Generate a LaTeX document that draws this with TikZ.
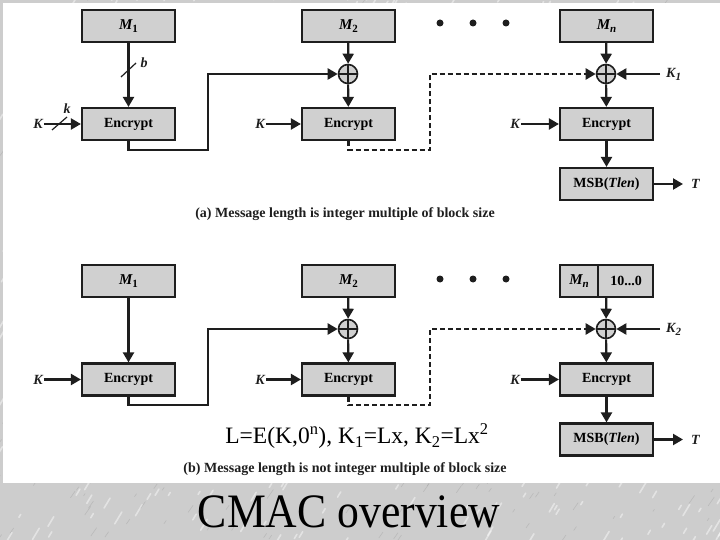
\documentclass[tikz,border=0pt]{standalone}
\usepackage{fontspec}
\setmainfont{Liberation Serif}
\usetikzlibrary{arrows.meta}
\definecolor{boxgray}{RGB}{208,208,208}
\definecolor{ink}{RGB}{30,30,30}
\definecolor{marble}{RGB}{205,205,205}
\definecolor{vein}{RGB}{150,150,150}
\newcommand{\blab}[2]{{\fontsize{15}{16}\selectfont\bfseries\itshape #1}\raisebox{-0.45ex}{\fontsize{11}{12}\selectfont\bfseries #2}}
\newcommand{\blabi}[2]{{\fontsize{15}{16}\selectfont\bfseries\itshape #1}\raisebox{-0.45ex}{\fontsize{11}{12}\selectfont\bfseries\itshape #2}}
\newcommand{\klab}[2]{{\bfseries\itshape #1}\raisebox{-0.45ex}{\fontsize{11}{12}\selectfont\bfseries #2}}
\tikzset{
  box/.style={draw=ink, fill=boxgray, line width=2.2pt, minimum width=93pt, minimum height=32pt, inner sep=0pt, font=\fontsize{14}{16}\selectfont\bfseries},
  xor/.style={circle, draw=ink, fill=boxgray, line width=1.6pt, minimum size=19pt, inner sep=0pt,
    path picture={\draw[ink, line width=1.2pt] (path picture bounding box.north) -- (path picture bounding box.south) (path picture bounding box.west) -- (path picture bounding box.east);}},
  arr/.style={draw=ink, line width=2.2pt, -{Triangle[length=10pt,width=11pt]}},
  lbl/.style={inner sep=1pt, font=\fontsize{14}{15}\selectfont\bfseries\itshape, text=ink},
  captxt/.style={font=\fontsize{14}{16}\selectfont\bfseries, text=ink},
  tick/.style={draw=ink, line width=1.2pt},
  dotn/.style={circle, fill=ink, minimum size=7pt, inner sep=0pt},
  dsh/.style={dash pattern=on 5pt off 3pt}
}
\begin{document}
\begin{tikzpicture}[x=1pt,y=-1pt]
\fill[marble] (0,0) rectangle (720,540);
\begin{scope}
\clip (0,0) rectangle (720,540);
\pgfmathsetseed{11}
\foreach \i in {1,...,700}{
  \pgfmathsetmacro{\xa}{rnd*730-5}
  \pgfmathsetmacro{\ya}{rnd*550-5}
  \pgfmathsetmacro{\la}{3+rnd*9}
  \draw[white, opacity=0.45, line width=1.6pt, line cap=round] (\xa,\ya) -- ++(0.6*\la,-\la);
}
\foreach \i in {1,...,500}{
  \pgfmathsetmacro{\xa}{rnd*730-5}
  \pgfmathsetmacro{\ya}{rnd*550-5}
  \pgfmathsetmacro{\la}{2+rnd*7}
  \draw[vein, opacity=0.35, line width=0.6pt] (\xa,\ya) -- ++(0.7*\la,-\la);
}
\end{scope}
\fill[white] (3,3) rectangle (720,483);
\useasboundingbox (0,0) rectangle (720,540);

% ===== (a) =====
\node[box] (m1) at (128.5,26) {\blab{M}{1}};
\node[box] (e1) at (128.5,124) {Encrypt};
\node[box] (m2) at (348.5,26) {\blab{M}{2}};
\node[xor] (x2) at (348,74) {};
\node[box] (e2) at (348.5,124) {Encrypt};
\node[box] (mn) at (606.5,26) {\blabi{M}{n}};
\node[xor] (xn) at (606,74) {};
\node[box] (en) at (606.5,124) {Encrypt};
\node[box] (msb) at (606.5,184) {MSB(\textit{Tlen})};
\node[dotn] (d1) at (440,23) {};
\node[dotn] (d2) at (473,23) {};
\node[dotn] (d3) at (506,23) {};

\node[lbl] (ka1) at (38,124) {K};
\node[lbl, anchor=east] (ka2) at (266,124) {K};
\node[lbl, anchor=east] (ka3) at (521,124) {K};
\node[lbl, anchor=west, inner xsep=6pt] (kk1) at (660,74) {\klab{K}{1}};
\node[lbl, anchor=west, inner xsep=8pt] (ta) at (683,184) {T};

\draw[arr] (m1) -- (e1);
\draw[tick] (121,77) -- (136,63);
\node[lbl] (lb) at (144,63) {b};
\draw[arr] (ka1) -- (e1);
\draw[tick] (52,130) -- (67,117);
\node[lbl] (lk) at (67,109) {k};
\coordinate (ca1) at (128.5,150);
\coordinate (ca2) at (208,150);
\draw[arr] (e1.south) -- (ca1) -- (ca2) |- (x2.west);
\draw[arr] (m2) -- (x2);
\draw[arr] (x2) -- (e2);
\draw[arr] (ka2) -- (e2);
\coordinate (ca3) at (348.5,150);
\coordinate (ca4) at (430,150);
\draw[arr, dsh] (e2.south) -- (ca3) -- (ca4) |- (xn.west);
\draw[arr] (mn) -- (xn);
\draw[arr] (kk1.west) -- (xn.east);
\draw[arr] (xn) -- (en);
\draw[arr] (ka3) -- (en);
\draw[arr] (en) -- (msb);
\draw[arr] (msb.east) -- (ta.west);
\node[captxt] (capa) at (345,214) {(a) Message length is integer multiple of block size};

% ===== (b) =====
\node[box] (bm1) at (128.5,281) {\blab{M}{1}};
\node[box] (be1) at (128.5,379.5) {Encrypt};
\node[box] (bm2) at (348.5,281) {\blab{M}{2}};
\node[xor] (bx2) at (348,329) {};
\node[box] (be2) at (348.5,379.5) {Encrypt};
\node[box] (bmn) at (606.5,281) {};
\draw[ink, line width=2.2pt] (598,265) -- (598,297);
\node[font=\fontsize{14}{16}\selectfont] (bmnl) at (579,281) {\blabi{M}{n}};
\node[font=\fontsize{14}{16}\selectfont\bfseries] (bpad) at (626,281) {10...0};
\node[xor] (bxn) at (606,329) {};
\node[box] (ben) at (606.5,379.5) {Encrypt};
\node[box] (bmsb) at (606.5,439.5) {MSB(\textit{Tlen})};
\node[dotn] (bd1) at (440,279) {};
\node[dotn] (bd2) at (473,279) {};
\node[dotn] (bd3) at (506,279) {};

\node[lbl] (bka1) at (38,379.5) {K};
\node[lbl, anchor=east] (bka2) at (266,379.5) {K};
\node[lbl, anchor=east] (bka3) at (521,379.5) {K};
\node[lbl, anchor=west, inner xsep=6pt] (bkk2) at (660,329) {\klab{K}{2}};
\node[lbl, anchor=west, inner xsep=8pt] (tb) at (683,439.5) {T};

\draw[arr] (bm1) -- (be1);
\draw[arr] (bka1) -- (be1);
\coordinate (cb1) at (128.5,405);
\coordinate (cb2) at (208,405);
\draw[arr] (be1.south) -- (cb1) -- (cb2) |- (bx2.west);
\draw[arr] (bm2) -- (bx2);
\draw[arr] (bx2) -- (be2);
\draw[arr] (bka2) -- (be2);
\coordinate (cb3) at (348.5,405);
\coordinate (cb4) at (430,405);
\draw[arr, dsh] (be2.south) -- (cb3) -- (cb4) |- (bxn.west);
\draw[arr] (bmn) -- (bxn);
\draw[arr] (bkk2.west) -- (bxn.east);
\draw[arr] (bxn) -- (ben);
\draw[arr] (bka3) -- (ben);
\draw[arr] (ben) -- (bmsb);
\draw[arr] (bmsb.east) -- (tb.west);

\node[font=\fontsize{23.5}{26}\selectfont, text=black] (form) at (357,436) {L=E(K,0\textsuperscript{n}), K\textsubscript{1}=Lx, K\textsubscript{2}=Lx\textsuperscript{2}};
\node[captxt] (capb) at (345,469) {(b) Message length is not integer multiple of block size};

\node[font=\fontsize{48}{56}\selectfont, xscale=0.91, text=black] (title) at (349,512) {CMAC overview};
\end{tikzpicture}
\end{document}
